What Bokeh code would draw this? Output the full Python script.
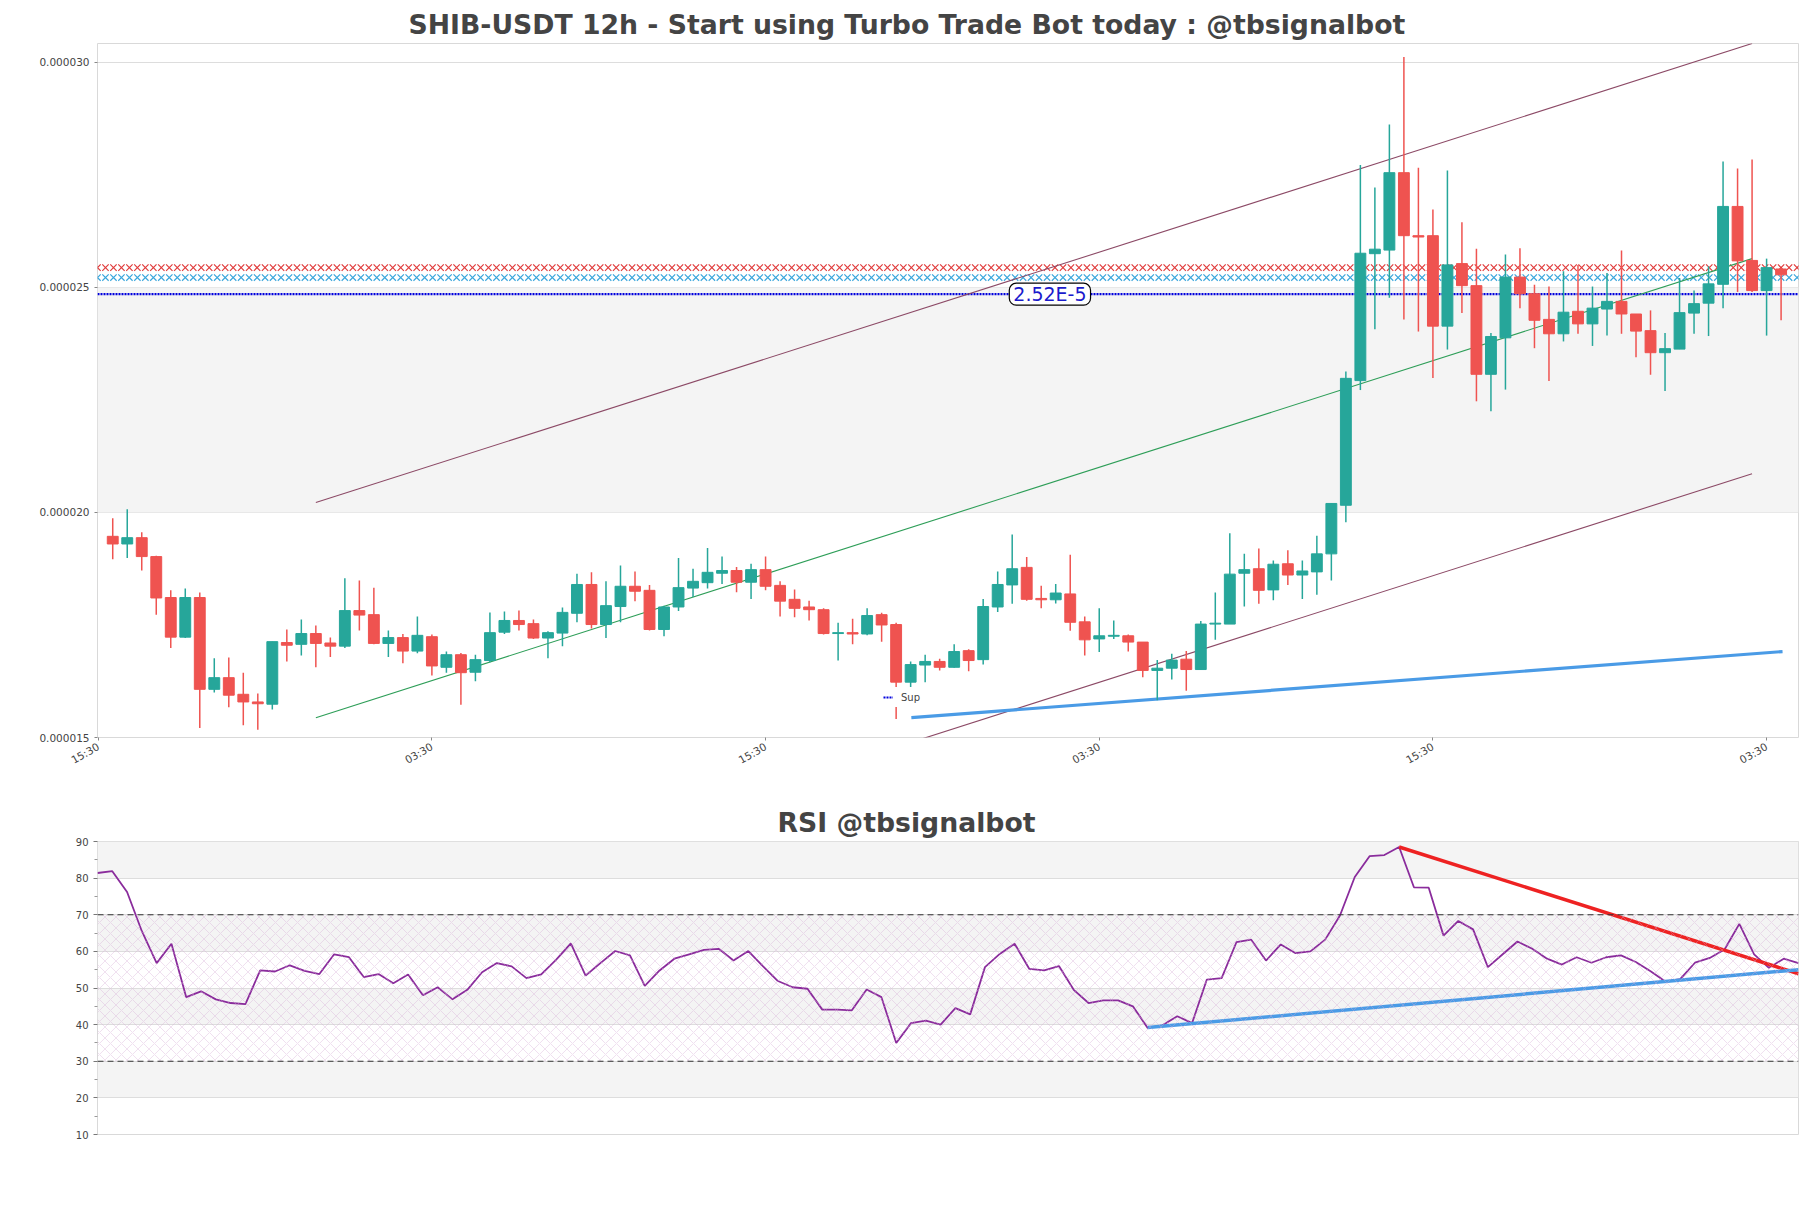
import math
import numpy as np
from bokeh.plotting import figure
from bokeh.models import (FixedTicker, PrintfTickFormatter, Range1d, Label, Legend,
                          LegendItem, BoxAnnotation, Span)
from bokeh.layouts import column
from bokeh.embed import file_html
from bokeh.resources import INLINE

# ---------------- data (prices in units of 1e-6 USDT) ----------------
SCALE = 1e-6
opens = [19.47, 19.30, 19.44, 19.02, 18.11, 17.23, 18.11, 16.07, 16.33, 15.96,
         15.79, 15.74, 17.11, 17.07, 17.31, 17.10, 17.03, 17.82, 17.73, 17.09,
         17.22, 16.92, 17.24, 16.56, 16.84, 16.45, 16.71, 17.34, 17.60, 17.53,
         17.21, 17.32, 17.76, 18.40, 17.51, 17.91, 18.36, 18.27, 17.40, 17.90,
         18.32, 18.44, 18.65, 18.71, 18.45, 18.73, 18.38, 18.07, 17.90, 17.84,
         17.31, 17.33, 17.30, 17.73, 17.51, 16.23, 16.61, 16.69, 16.56, 16.93,
         16.73, 17.90, 18.39, 18.78, 18.09, 18.06, 18.19, 17.57, 17.19, 17.25,
         17.26, 17.12, 16.49, 16.54, 16.74, 16.51, 17.52, 17.52, 18.65, 18.75,
         18.28, 18.86, 18.61, 18.68, 19.08, 20.16, 22.93, 25.75, 25.83, 27.55,
         26.15, 26.15, 24.14, 25.53, 25.04, 23.07, 23.88, 25.23, 24.86, 24.29,
         23.97, 24.47, 24.19, 24.52, 24.69, 24.41, 24.04, 23.55, 23.63, 24.43,
         24.65, 25.07, 26.80, 25.60, 24.93, 25.41]
closes = [19.30, 19.44, 19.02, 18.10, 17.23, 18.11, 16.07, 16.33, 15.94, 15.79,
          15.75, 17.13, 17.05, 17.31, 17.09, 17.03, 17.82, 17.72, 17.09, 17.22,
          16.92, 17.27, 16.59, 16.84, 16.44, 16.73, 17.33, 17.60, 17.51, 17.21,
          17.33, 17.78, 18.40, 17.51, 17.93, 18.36, 18.25, 17.40, 17.90, 18.33,
          18.47, 18.67, 18.71, 18.45, 18.73, 18.36, 18.03, 17.87, 17.84, 17.31,
          17.33, 17.30, 17.71, 17.50, 16.23, 16.62, 16.69, 16.56, 16.91, 16.71,
          17.91, 18.40, 18.75, 18.07, 18.06, 18.21, 17.56, 17.17, 17.26, 17.27,
          17.12, 16.49, 16.54, 16.72, 16.51, 17.52, 17.54, 18.63, 18.73, 18.27,
          18.85, 18.61, 18.70, 19.08, 20.20, 22.98, 25.76, 25.85, 27.55, 26.15,
          26.12, 24.14, 25.50, 25.04, 23.07, 23.91, 25.23, 24.86, 24.27, 23.97,
          24.45, 24.19, 24.54, 24.69, 24.41, 24.03, 23.55, 23.64, 24.44, 24.64,
          25.08, 26.80, 25.59, 24.93, 25.44, 25.28]
highs = [19.87, 20.07, 19.56, 19.04, 18.27, 18.31, 18.22, 16.76, 16.78, 16.44,
         15.98, 17.13, 17.40, 17.62, 17.49, 17.22, 18.54, 18.49, 18.33, 17.38,
         17.30, 17.69, 17.29, 16.91, 16.88, 16.84, 17.78, 17.80, 17.82, 17.62,
         17.36, 17.89, 18.64, 18.67, 18.47, 18.82, 18.69, 18.39, 17.93, 18.99,
         18.75, 19.21, 19.02, 18.79, 18.86, 19.02, 18.47, 18.29, 18.04, 17.87,
         17.55, 17.64, 17.87, 17.77, 17.55, 16.69, 16.84, 16.75, 17.07, 16.96,
         18.08, 18.69, 19.51, 19.01, 18.37, 18.41, 19.06, 17.69, 17.87, 17.60,
         17.29, 17.12, 16.72, 16.86, 16.92, 17.59, 18.22, 19.54, 19.08, 19.20,
         18.93, 19.16, 18.93, 19.48, 20.20, 23.13, 27.72, 27.22, 28.62, 30.12,
         27.66, 26.73, 27.60, 26.45, 25.86, 23.99, 25.73, 25.87, 25.06, 25.02,
         25.36, 25.50, 25.02, 25.32, 25.82, 24.41, 24.49, 23.99, 25.21, 24.93,
         25.47, 27.80, 27.64, 27.84, 25.64, 25.41]
lows = [18.96, 18.99, 18.71, 17.73, 16.99, 17.21, 15.21, 16.00, 15.67, 15.27,
        15.17, 15.62, 16.69, 16.82, 16.56, 16.79, 16.99, 17.38, 17.07, 16.79,
        16.65, 16.87, 16.38, 16.44, 15.73, 16.25, 16.67, 17.30, 17.38, 17.19,
        16.76, 17.03, 17.56, 17.42, 17.21, 17.56, 18.03, 17.38, 17.25, 17.81,
        18.12, 18.31, 18.41, 18.23, 18.08, 18.27, 17.69, 17.67, 17.60, 17.29,
        16.71, 17.07, 17.27, 17.13, 15.41, 16.12, 16.23, 16.49, 16.55, 16.47,
        16.62, 17.79, 17.97, 18.04, 17.87, 17.98, 17.37, 16.82, 16.90, 17.19,
        16.91, 16.34, 15.83, 16.29, 16.04, 16.51, 17.17, 17.52, 17.91, 17.97,
        18.05, 18.39, 18.08, 18.17, 18.49, 19.78, 22.72, 24.07, 24.77, 24.29,
        24.02, 22.99, 23.62, 24.43, 22.47, 22.25, 22.73, 24.54, 23.65, 22.92,
        23.80, 23.97, 23.70, 23.93, 23.97, 23.45, 23.06, 22.70, 23.63, 23.97,
        23.92, 24.54, 24.90, 24.90, 23.93, 24.27]
rsi = [81.4, 81.9, 76.2, 65.5, 56.8, 62.1, 47.5, 49.1, 46.9, 45.9,
       45.6, 54.8, 54.5, 56.2, 54.7, 53.8, 59.2, 58.4, 53.0, 53.8,
       51.3, 53.7, 48.0, 50.2, 46.9, 49.5, 54.3, 56.8, 55.9, 52.7,
       53.7, 57.7, 62.2, 53.4, 56.8, 60.1, 58.9, 50.6, 54.8, 58.0,
       59.2, 60.4, 60.7, 57.5, 60.1, 55.9, 51.9, 50.2, 49.8, 44.1,
       44.1, 43.9, 49.6, 47.5, 35.0, 40.4, 41.1, 40.0, 44.5, 42.8,
       55.7, 59.3, 62.1, 55.2, 54.8, 56.0, 49.5, 45.9, 46.6, 46.6,
       45.0, 39.1, 39.8, 42.3, 40.4, 52.3, 52.7, 62.5, 63.2, 57.5,
       61.9, 59.5, 60.0, 63.2, 69.8, 80.3, 86.0, 86.3, 88.5, 77.5,
       77.4, 64.3, 68.3, 66.0, 55.7, 59.2, 62.7, 60.7, 58.0, 56.4,
       58.4, 56.9, 58.4, 58.9, 57.1, 54.6, 51.8, 52.4, 56.9, 58.2,
       60.5, 67.5, 59.2, 55.5, 58.0, 56.8]

# x-axis tick labels (candle index -> time of day)
tick_pos = [-1, 22, 45, 68, 91, 114]
tick_labels = ["15:30", "03:30", "15:30", "03:30", "15:30", "03:30"]
price_ticks = [1.5e-5, 2.0e-5, 2.5e-5, 3.0e-5]
price_band = [2.0e-5, 2.5e-5]
price_top = 3.042e-5

# horizontal levels
res_red_level = 25.44
res_blue_level = 25.22
sup_level = 24.85
sup_label = "2.52E-5"
sup_label_x = 64.6

# channel lines (candle index, price)
chan_x = [14, 113]
chan_upper = [20.22, 30.42]
chan_mid = [15.44, 25.64]
chan_low_x = [41.6, 113]
chan_low = [13.51, 20.86]
support_x = [55.05, 115.1]
support_y = [15.44, 16.91]

# RSI trend lines
rsi_res_x = [88, 115]
rsi_res_y = [88.5, 53.9]
rsi_sup_x = [71, 115]
rsi_sup_y = [39.2, 55.0]

# ---------------- styling ----------------
GREEN = "#26a69a"
RED = "#ef5350"
FONT = "DejaVu Sans"
TITLE_COLOR = "#444444"
X_LO, X_HI = -1.05, 116.2

o = np.array(opens) * SCALE
c = np.array(closes) * SCALE
h = np.array(highs) * SCALE
l = np.array(lows) * SCALE
idx = np.arange(len(opens))
cols = np.where(c >= o, GREEN, RED)


def style_title(fig, text, offset):
    fig.title.text = text
    fig.title.text_font = FONT
    fig.title.text_font_size = "26.7px"
    fig.title.text_font_style = "bold"
    fig.title.text_color = TITLE_COLOR
    fig.title.align = "left"
    fig.title.offset = offset
    fig.title.standoff = 8


p = figure(width=1803, height=790, output_backend="svg", toolbar_location=None,
           x_range=Range1d(X_LO, X_HI), y_range=Range1d(price_ticks[0], price_top),
           min_border_left=97, min_border_right=5, min_border_top=43, min_border_bottom=53)
style_title(p, "SHIB-USDT 12h - Start using Turbo Trade Bot today : @tbsignalbot", 311)

p.outline_line_color = "#d9d9d9"
p.xgrid.visible = False
p.ygrid.grid_line_color = "#dddddd"
p.add_layout(BoxAnnotation(bottom=price_band[0], top=price_band[1],
                           fill_color="#f4f4f4", fill_alpha=1.0, line_color=None,
                           level="underlay"))

p.yaxis.ticker = FixedTicker(ticks=price_ticks)
p.yaxis.formatter = PrintfTickFormatter(format="%.6f")
p.xaxis.ticker = FixedTicker(ticks=tick_pos)
p.xaxis.major_label_overrides = dict(zip(tick_pos, tick_labels))
p.xaxis.major_label_orientation = math.pi / 6
for ax in (p.xaxis, p.yaxis):
    ax.axis_line_color = None
    ax.major_tick_line_color = "#888888"
    ax.major_tick_in = 0
    ax.major_tick_out = 3
    ax.minor_tick_line_color = None
    ax.major_label_text_font = FONT
    ax.major_label_text_font_size = "10.5px"
    ax.major_label_text_color = "#444444"

# level lines
sup_line = p.line([X_LO, X_HI], [sup_level * SCALE] * 2, line_color="#0000dd",
                  line_width=2.2, line_dash="2 1")
marks_x = np.arange(X_LO, X_HI, 0.55)
p.scatter(marks_x, np.full(len(marks_x), res_red_level * SCALE), marker="x", size=9,
          line_color="#e03c3c", line_width=1.2)
p.scatter(marks_x, np.full(len(marks_x), res_blue_level * SCALE), marker="x", size=9,
          line_color="#3aa6dc", line_width=1.2)

# channel
p.line(chan_x, [v * SCALE for v in chan_upper], line_color="#8c4a66", line_width=1.1)
p.line(chan_low_x, [v * SCALE for v in chan_low], line_color="#8c4a66", line_width=1.1)
p.line(chan_x, [v * SCALE for v in chan_mid], line_color="#2e9e58", line_width=1.1)
p.line(support_x, [v * SCALE for v in support_y], line_color="#4a9be6", line_width=3.2)

# candles
p.segment(x0=idx, y0=l, x1=idx, y1=h, line_color=cols, line_width=1.5)
p.vbar(x=idx, width=0.75, top=np.maximum(o, c), bottom=np.minimum(o, c),
       fill_color=cols, line_color=cols, line_width=1)

lbl = Label(x=sup_label_x, y=sup_level * SCALE, text=sup_label, text_align="center",
            text_baseline="middle", text_font=FONT, text_font_size="19px",
            text_color="#1a1acc", background_fill_color="white",
            border_line_color="black", border_line_width=1.2,
            padding=dict(left=4, right=4, top=0, bottom=0), border_radius=7)
p.add_layout(lbl)

leg = Legend(items=[LegendItem(label="Sup", renderers=[sup_line])], location=(782, 30),
             background_fill_color="white", background_fill_alpha=1.0,
             border_line_alpha=0, label_text_font=FONT, label_text_font_size="10px",
             glyph_width=10, glyph_height=12, padding=4, margin=0, spacing=0,
             label_standoff=8, label_height=12)
p.add_layout(leg)

# ---------------- RSI ----------------
r = figure(width=1803, height=388, output_backend="svg", toolbar_location=None,
           x_range=Range1d(0, len(rsi) - 1), y_range=Range1d(10, 90),
           x_axis_location=None,
           min_border_left=97, min_border_right=5, min_border_top=51, min_border_bottom=44)
style_title(r, "RSI @tbsignalbot", 680)
r.outline_line_color = "#d9d9d9"
r.xgrid.visible = False
r.ygrid.grid_line_color = "#dddddd"
r.ygrid.band_fill_color = "#f4f4f4"
r.ygrid.band_fill_alpha = 1.0
r.yaxis.ticker = FixedTicker(ticks=list(range(10, 91, 10)), minor_ticks=list(range(15, 90, 10)))
r.yaxis.axis_line_color = None
r.yaxis.major_tick_line_color = "#777777"
r.yaxis.major_tick_in = 0
r.yaxis.major_tick_out = 4
r.yaxis.minor_tick_line_color = "#999999"
r.yaxis.minor_tick_in = 0
r.yaxis.minor_tick_out = 3
r.yaxis.major_label_text_font = FONT
r.yaxis.major_label_text_font_size = "10px"
r.yaxis.major_label_text_color = "#444444"

hatch = BoxAnnotation(bottom=30, top=70, fill_alpha=0, line_color=None,
                      hatch_pattern="x", hatch_color="#d4a8d4", hatch_alpha=0.6,
                      hatch_scale=11, hatch_weight=0.6)
r.add_layout(hatch)
for lev in (70, 30):
    r.add_layout(Span(location=lev, dimension="width", line_color="#333333",
                      line_dash="6 4", line_width=1.2))

r.line(np.arange(len(rsi)), rsi, line_color="#8a2c9c", line_width=1.8)
r.line(rsi_res_x, rsi_res_y, line_color="#ee2222", line_width=3.5)
r.line(rsi_sup_x, rsi_sup_y, line_color="#4a9be6", line_width=3.5)

layout = column(p, r)
open("out.html", "w").write(file_html(layout, INLINE))
